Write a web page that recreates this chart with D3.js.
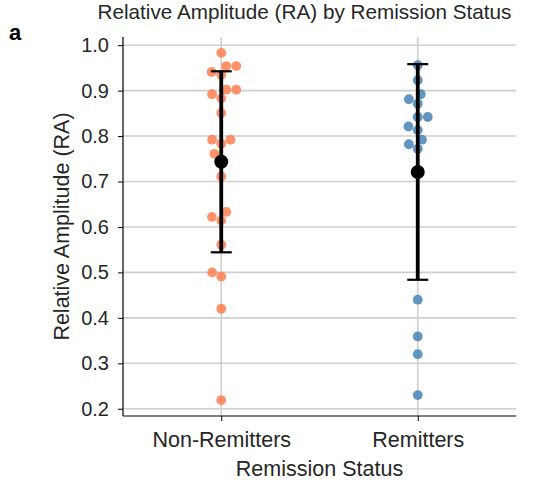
<!DOCTYPE html>
<html>
<head>
<meta charset="utf-8">
<script src="https://cdn.jsdelivr.net/npm/d3@7"></script>
<style>
  body { margin: 0; background: #fff; }
  svg { font-family: "Liberation Sans", Arial, sans-serif; }
</style>
</head>
<body>
<svg width="544" height="483"></svg>
<script>
// values
const groups = ["Non-Remitters", "Remitters"];
const nonRemitters = [0.983, 0.954, 0.954, 0.941, 0.935, 0.902, 0.902, 0.892, 0.883,
  0.851, 0.792, 0.792, 0.783, 0.761, 0.745, 0.711, 0.633, 0.622, 0.614, 0.561,
  0.50, 0.491, 0.42, 0.219];
const remitters = [0.956, 0.923, 0.892, 0.881, 0.871, 0.842, 0.842, 0.821, 0.813,
  0.792, 0.782, 0.772, 0.44, 0.359, 0.32, 0.23];
const yTicks = [0.2, 0.3, 0.4, 0.5, 0.6, 0.7, 0.8, 0.9, 1.0];
const colors = ["#ff7f50", "#4682b4"];

const series = [nonRemitters, remitters];

const svg = d3.select("svg");
const mLeft = 123, mRight = 516, mTop = 37, mBottom = 416;

const x = d3.scaleLinear().domain([-0.5, 1.5]).range([mLeft, mRight]);
const y = d3.scaleLinear().domain([0.184, 1.018]).range([mBottom, mTop]);

// grid
svg.append("g").selectAll("line")
  .data(yTicks)
  .join("line")
  .attr("x1", mLeft).attr("x2", mRight)
  .attr("y1", d => y(d)).attr("y2", d => y(d))
  .attr("stroke", "#cfcfcf").attr("stroke-width", 1.6);
svg.append("g").selectAll("line")
  .data(groups)
  .join("line")
  .attr("x1", (d, i) => x(i)).attr("x2", (d, i) => x(i))
  .attr("y1", mTop).attr("y2", mBottom)
  .attr("stroke", "#cfcfcf").attr("stroke-width", 1.6);

// simple beeswarm like seaborn: place low values first, nearest free offset
function swarm(values, diam) {
  const sorted = values.map(v => ({ v, py: y(v) })).sort((a, b) => a.v - b.v);
  const placed = [];
  sorted.forEach(p => {
    const near = placed.filter(q => Math.abs(q.py - p.py) < diam);
    const cands = [0];
    near.forEach(q => {
      const dx = Math.sqrt(diam * diam - (q.py - p.py) ** 2);
      cands.push(q.dx - dx, q.dx + dx);
    });
    cands.sort((a, b) => Math.abs(a) - Math.abs(b));
    const ok = cands.find(c => near.every(q =>
      (q.dx - c) ** 2 + (q.py - p.py) ** 2 >= diam * diam - 0.01));
    p.dx = ok;
    placed.push(p);
  });
  return placed;
}

series.forEach((vals, i) => {
  const pts = swarm(vals, 10);
  svg.append("g").selectAll("circle")
    .data(pts)
    .join("circle")
    .attr("cx", d => x(i) + d.dx)
    .attr("cy", d => d.py)
    .attr("r", 4.9)
    .attr("fill", colors[i])
    .attr("fill-opacity", 0.85);
});

// mean +- sd
series.forEach((vals, i) => {
  const m = d3.mean(vals), s = d3.deviation(vals);
  const g = svg.append("g");
  g.append("line")
    .attr("x1", x(i)).attr("x2", x(i))
    .attr("y1", y(m - s)).attr("y2", y(m + s))
    .attr("stroke", "#000").attr("stroke-width", 3.8);
  [m - s, m + s].forEach(v => {
    g.append("line")
      .attr("x1", x(i) - 10.5).attr("x2", x(i) + 10.5)
      .attr("y1", y(v)).attr("y2", y(v))
      .attr("stroke", "#000").attr("stroke-width", 2.2);
  });
  g.append("circle")
    .attr("cx", x(i)).attr("cy", y(m)).attr("r", 7).attr("fill", "#000");
});

// axes
const yAxis = d3.axisLeft(y).tickValues(yTicks).tickFormat(d3.format(".1f")).tickSize(5).tickPadding(9);
const gy = svg.append("g").attr("transform", `translate(${mLeft},0)`).call(yAxis);
gy.select(".domain").attr("d", `M0,${mTop}V${mBottom}`).attr("stroke-width", 1.2);
gy.selectAll(".tick text").attr("font-size", 20);

const xAxis = d3.axisBottom(x).tickValues([0, 1]).tickFormat((d, i) => groups[i]).tickSize(5).tickPadding(11);
const gx = svg.append("g").attr("transform", `translate(0,${mBottom})`).call(xAxis);
gx.select(".domain").attr("d", `M${mLeft},0H${mRight}`).attr("stroke-width", 1.2);
gx.selectAll(".tick text").attr("font-size", 21.5);

svg.selectAll(".tick text").attr("fill", "#262626")
  .attr("font-family", "'Liberation Sans', Arial, sans-serif");

svg.append("text")
  .attr("x", 304.5).attr("y", 19)
  .attr("text-anchor", "middle").attr("font-size", 20.7).attr("fill", "#262626")
  .text("Relative Amplitude (RA) by Remission Status");

svg.append("text")
  .attr("x", (mLeft + mRight) / 2).attr("y", 476)
  .attr("text-anchor", "middle").attr("font-size", 21.5).attr("fill", "#262626")
  .text("Remission Status");

svg.append("text")
  .attr("transform", `translate(69,${(mTop + mBottom) / 2}) rotate(-90)`)
  .attr("text-anchor", "middle").attr("font-size", 21.5).attr("fill", "#262626")
  .text("Relative Amplitude (RA)");

svg.append("text")
  .attr("x", 9).attr("y", 40)
  .attr("font-size", 22).attr("font-weight", "bold")
  .text("a");
</script>
</body>
</html>
